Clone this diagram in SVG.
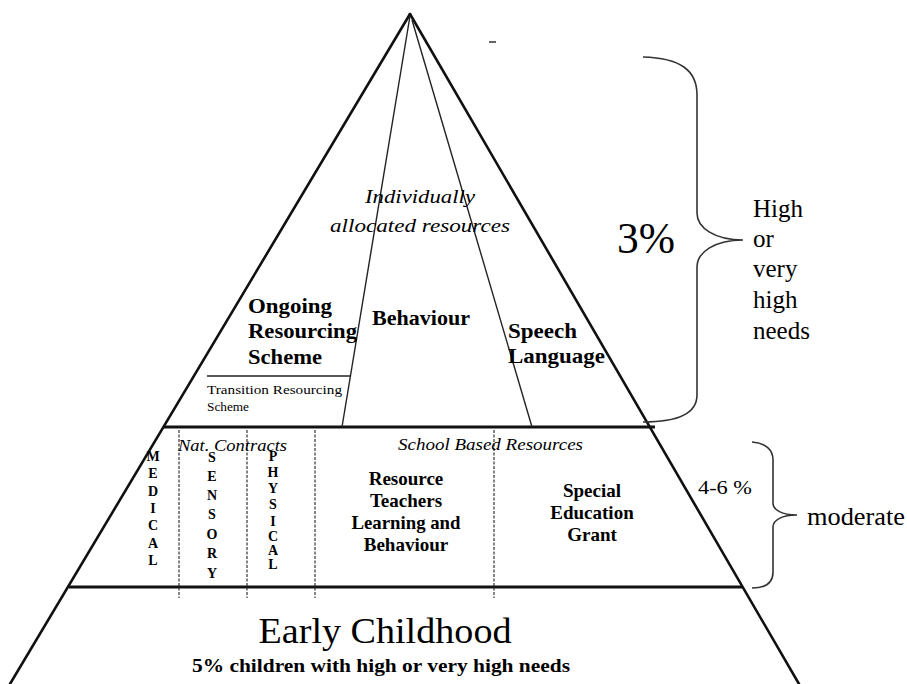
<svg xmlns="http://www.w3.org/2000/svg" width="907" height="684" viewBox="0 0 907 684">
<style>
.edge{stroke:#111;stroke-width:2.6;fill:none;stroke-linecap:round}
.thin{stroke:#222;stroke-width:1.4;fill:none}
.band{stroke:#111;stroke-width:3;fill:none}
.dot{stroke:#333;stroke-width:1.2;stroke-dasharray:3 1.5;fill:none}
.brace{stroke:#333;stroke-width:1.6;fill:none}
.b{font-weight:bold}
.i{font-style:italic}
.vl{font-weight:bold;font-size:14px;text-anchor:middle}
</style>
<rect width="907" height="684" fill="#fff"/>
<g id="pyramid">
<line class="edge" x1="410" y1="14" x2="10" y2="684"/>
<line class="edge" x1="410" y1="14" x2="799" y2="684"/>
<line class="band" x1="164" y1="427" x2="655" y2="427"/>
<line class="band" x1="69" y1="587" x2="743" y2="587"/>
</g>
<g id="top-tier">
<line class="thin" x1="410" y1="16" x2="342" y2="427"/>
<line class="thin" x1="412" y1="20" x2="532" y2="427"/>
<line class="thin" x1="207" y1="376" x2="351" y2="376"/>
<text font-family="Liberation Serif" style="font-family:'Liberation Serif',serif" class="i" x="420" y="203" font-size="18" text-anchor="middle" textLength="110" lengthAdjust="spacingAndGlyphs">Individually</text>
<text font-family="Liberation Serif" style="font-family:'Liberation Serif',serif" class="i" x="420" y="232" font-size="18" text-anchor="middle" textLength="180" lengthAdjust="spacingAndGlyphs">allocated resources</text>
</g>
<g id="ongoing">
<text font-family="Liberation Serif" style="font-family:'Liberation Serif',serif" class="b" font-size="21" x="248" y="313" textLength="84" lengthAdjust="spacingAndGlyphs">Ongoing</text>
<text font-family="Liberation Serif" style="font-family:'Liberation Serif',serif" class="b" font-size="21" x="248" y="338" textLength="109" lengthAdjust="spacingAndGlyphs">Resourcing</text>
<text font-family="Liberation Serif" style="font-family:'Liberation Serif',serif" class="b" font-size="21" x="248" y="364" textLength="74" lengthAdjust="spacingAndGlyphs">Scheme</text>
</g>
<g id="transition">
<text font-family="Liberation Serif" style="font-family:'Liberation Serif',serif" font-size="13" x="207" y="394" textLength="135" lengthAdjust="spacingAndGlyphs">Transition Resourcing</text>
<text font-family="Liberation Serif" style="font-family:'Liberation Serif',serif" font-size="13" x="207" y="411" textLength="42" lengthAdjust="spacingAndGlyphs">Scheme</text>
</g>
<g id="behaviour">
<text font-family="Liberation Serif" style="font-family:'Liberation Serif',serif" class="b" font-size="21" x="372" y="325" textLength="98" lengthAdjust="spacingAndGlyphs">Behaviour</text>
</g>
<g id="speech">
<text font-family="Liberation Serif" style="font-family:'Liberation Serif',serif" class="b" font-size="21" x="508" y="338" textLength="69" lengthAdjust="spacingAndGlyphs">Speech</text>
<text font-family="Liberation Serif" style="font-family:'Liberation Serif',serif" class="b" font-size="21" x="508" y="363" textLength="97" lengthAdjust="spacingAndGlyphs">Language</text>
</g>
<g id="high-label">
<text font-family="Liberation Serif" style="font-family:'Liberation Serif',serif" font-size="44" x="617" y="253" textLength="58" lengthAdjust="spacingAndGlyphs">3%</text>
<text font-family="Liberation Serif" style="font-family:'Liberation Serif',serif" font-size="25" x="753" y="217">High</text>
<text font-family="Liberation Serif" style="font-family:'Liberation Serif',serif" font-size="25" x="753" y="247">or</text>
<text font-family="Liberation Serif" style="font-family:'Liberation Serif',serif" font-size="25" x="753" y="277">very</text>
<text font-family="Liberation Serif" style="font-family:'Liberation Serif',serif" font-size="25" x="753" y="308">high</text>
<text font-family="Liberation Serif" style="font-family:'Liberation Serif',serif" font-size="25" x="753" y="339">needs</text>
</g>
<g id="mid-tier">
<line class="dot" x1="179" y1="430" x2="179" y2="598"/>
<line class="dot" x1="247" y1="430" x2="247" y2="598"/>
<line class="dot" x1="315" y1="430" x2="315" y2="598"/>
<line class="dot" x1="494" y1="430" x2="494" y2="598"/>
<text font-family="Liberation Serif" style="font-family:'Liberation Serif',serif" class="i" font-size="17" x="178" y="451" textLength="109" lengthAdjust="spacingAndGlyphs">Nat. Contracts</text>
<text font-family="Liberation Serif" style="font-family:'Liberation Serif',serif" class="i" font-size="17" x="398" y="450" textLength="185" lengthAdjust="spacingAndGlyphs">School Based Resources</text>
</g>
<g id="medical">
<text font-family="Liberation Serif" style="font-family:'Liberation Serif',serif" class="vl" x="153" y="461">M</text>
<text font-family="Liberation Serif" style="font-family:'Liberation Serif',serif" class="vl" x="153" y="478">E</text>
<text font-family="Liberation Serif" style="font-family:'Liberation Serif',serif" class="vl" x="153" y="496">D</text>
<text font-family="Liberation Serif" style="font-family:'Liberation Serif',serif" class="vl" x="153" y="513">I</text>
<text font-family="Liberation Serif" style="font-family:'Liberation Serif',serif" class="vl" x="153" y="530">C</text>
<text font-family="Liberation Serif" style="font-family:'Liberation Serif',serif" class="vl" x="153" y="548">A</text>
<text font-family="Liberation Serif" style="font-family:'Liberation Serif',serif" class="vl" x="153" y="565">L</text>
</g>
<g id="sensory">
<text font-family="Liberation Serif" style="font-family:'Liberation Serif',serif" class="vl" font-size="15" x="212" y="462">S</text>
<text font-family="Liberation Serif" style="font-family:'Liberation Serif',serif" class="vl" font-size="15" x="212" y="481">E</text>
<text font-family="Liberation Serif" style="font-family:'Liberation Serif',serif" class="vl" font-size="15" x="212" y="500">N</text>
<text font-family="Liberation Serif" style="font-family:'Liberation Serif',serif" class="vl" font-size="15" x="212" y="519">S</text>
<text font-family="Liberation Serif" style="font-family:'Liberation Serif',serif" class="vl" font-size="15" x="212" y="539">O</text>
<text font-family="Liberation Serif" style="font-family:'Liberation Serif',serif" class="vl" font-size="15" x="212" y="558">R</text>
<text font-family="Liberation Serif" style="font-family:'Liberation Serif',serif" class="vl" font-size="15" x="212" y="578">Y</text>
</g>
<g id="physical">
<text font-family="Liberation Serif" style="font-family:'Liberation Serif',serif" class="vl" x="273" y="461">P</text>
<text font-family="Liberation Serif" style="font-family:'Liberation Serif',serif" class="vl" x="273" y="477">H</text>
<text font-family="Liberation Serif" style="font-family:'Liberation Serif',serif" class="vl" x="273" y="493">Y</text>
<text font-family="Liberation Serif" style="font-family:'Liberation Serif',serif" class="vl" x="273" y="509">S</text>
<text font-family="Liberation Serif" style="font-family:'Liberation Serif',serif" class="vl" x="273" y="526">I</text>
<text font-family="Liberation Serif" style="font-family:'Liberation Serif',serif" class="vl" x="273" y="541">C</text>
<text font-family="Liberation Serif" style="font-family:'Liberation Serif',serif" class="vl" x="273" y="555">A</text>
<text font-family="Liberation Serif" style="font-family:'Liberation Serif',serif" class="vl" x="273" y="569">L</text>
</g>
<g id="resource-teachers">
<text font-family="Liberation Serif" style="font-family:'Liberation Serif',serif" class="b" font-size="19" x="406" y="485" text-anchor="middle">Resource</text>
<text font-family="Liberation Serif" style="font-family:'Liberation Serif',serif" class="b" font-size="19" x="406" y="507" text-anchor="middle">Teachers</text>
<text font-family="Liberation Serif" style="font-family:'Liberation Serif',serif" class="b" font-size="19" x="406" y="529" text-anchor="middle" textLength="109" lengthAdjust="spacingAndGlyphs">Learning and</text>
<text font-family="Liberation Serif" style="font-family:'Liberation Serif',serif" class="b" font-size="19" x="406" y="551" text-anchor="middle">Behaviour</text>
</g>
<g id="seg">
<text font-family="Liberation Serif" style="font-family:'Liberation Serif',serif" class="b" font-size="19" x="592" y="497" text-anchor="middle">Special</text>
<text font-family="Liberation Serif" style="font-family:'Liberation Serif',serif" class="b" font-size="19" x="592" y="519" text-anchor="middle">Education</text>
<text font-family="Liberation Serif" style="font-family:'Liberation Serif',serif" class="b" font-size="19" x="592" y="541" text-anchor="middle">Grant</text>
</g>
<g id="moderate-label">
<text font-family="Liberation Serif" style="font-family:'Liberation Serif',serif" font-size="18" x="698" y="494" textLength="54" lengthAdjust="spacingAndGlyphs">4-6 %</text>
<text font-family="Liberation Serif" style="font-family:'Liberation Serif',serif" font-size="25" x="807" y="525" textLength="98" lengthAdjust="spacingAndGlyphs">moderate</text>
</g>
<g id="early-childhood">
<text font-family="Liberation Serif" style="font-family:'Liberation Serif',serif" font-size="36" x="385" y="643" text-anchor="middle" textLength="253" lengthAdjust="spacingAndGlyphs">Early Childhood</text>
<text font-family="Liberation Serif" style="font-family:'Liberation Serif',serif" class="b" font-size="19" x="381" y="672" text-anchor="middle" textLength="378" lengthAdjust="spacingAndGlyphs">5% children with high or very high needs</text>
</g>
<g id="connectors">
<path class="brace" d="M643,57 C680,58 697,70 697,95 L697,213 C697,228 715,240 743,240 C715,240 697,252 697,267 L697,395 C697,412 680,422 643,422"/>
<path class="brace" d="M752,442 C766,443 773,450 773,460 L773,503 C773,510 782,515 797,515 C782,515 773,520 773,527 L773,572 C773,582 766,588 752,588"/>
<line stroke="#333" stroke-width="1.5" x1="489" y1="42" x2="496" y2="42"/>
</g>
</svg>
